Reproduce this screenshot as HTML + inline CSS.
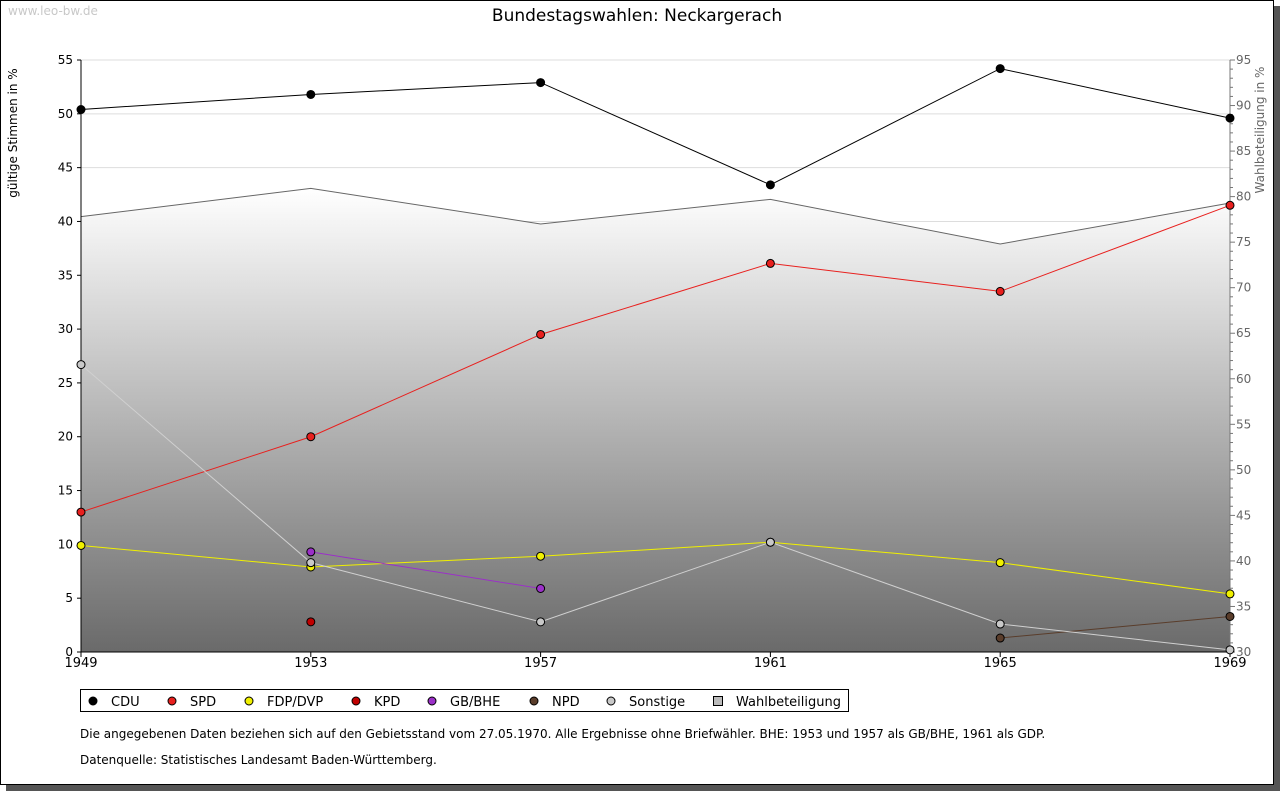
<!DOCTYPE html>
<html><head><meta charset="utf-8"><style>
body{margin:0;background:#fff;font-family:"DejaVu Sans","Liberation Sans",sans-serif;}
svg text{font-family:"DejaVu Sans","Liberation Sans",sans-serif;}
</style></head><body>
<svg id="c" width="1280" height="791" xmlns="http://www.w3.org/2000/svg">
<defs><linearGradient id="g" x1="0" y1="0" x2="0" y2="1"><stop offset="0" stop-color="#ffffff"/><stop offset="1" stop-color="#6a6a6a"/></linearGradient></defs>
<rect x="6" y="6" width="1274" height="785" fill="#555"/>
<rect x="0.5" y="0.5" width="1273" height="784" fill="#fff" stroke="#000"/>
<text x="8" y="15" font-size="12" fill="#c8c8c8">www.leo-bw.de</text>
<text x="637" y="21" font-size="17" text-anchor="middle">Bundestagswahlen: Neckargerach</text>
<text transform="translate(17,133) rotate(-90)" font-size="12" text-anchor="middle">gültige Stimmen in %</text>
<text transform="translate(1264,130) rotate(-90)" font-size="12" fill="#666" text-anchor="middle">Wahlbeteiligung in %</text>
<g id="plot"></g>
<g>
<rect x="80.5" y="689.5" width="768" height="22" fill="#fff" stroke="#000"/>
<g id="leg"></g>
</g>
<text x="80" y="738" font-size="12">Die angegebenen Daten beziehen sich auf den Gebietsstand vom 27.05.1970. Alle Ergebnisse ohne Briefwähler. BHE: 1953 und 1957 als GB/BHE, 1961 als GDP.</text>
<text x="80" y="764" font-size="12">Datenquelle: Statistisches Landesamt Baden-Württemberg.</text>
</svg>
<script>
const years=[1949,1953,1957,1961,1965,1969];
const leftTicks=[0,5,10,15,20,25,30,35,40,45,50,55];
const rightTicks=[30,35,40,45,50,55,60,65,70,75,80,85,90,95];
const cdu=[50.4,51.8,52.9,43.4,54.2,49.6];
const spd=[13.0,20.0,29.5,36.1,33.5,41.5];
const fdp=[9.9,7.9,8.9,10.2,8.3,5.4];
const kpd=[null,2.8,null,null,null,null];
const bhe=[null,9.3,5.9,null,null,null];
const npd=[null,null,null,null,1.3,3.3];
const sonst=[26.7,8.3,2.8,10.2,2.6,0.2];
const turnout=[77.8,80.9,77.0,79.7,74.8,79.3];
const NS='http://www.w3.org/2000/svg';
const X0=81,X1=1230,Y0=652,Y1=60;
const x=i=>X0+(X1-X0)*i/(years.length-1);
const yl=v=>Y0-(Y0-Y1)*v/55;
const yr=v=>Y0-(Y0-Y1)*(v-30)/65;
const plot=document.getElementById('plot');
function el(t,a,p){const e=document.createElementNS(NS,t);for(const k in a)e.setAttribute(k,a[k]);(p||plot).appendChild(e);return e;}
// grid (under area)
leftTicks.forEach(t=>{if(t>0){const g=el('line',{x1:X0,x2:X1,y1:yl(t),y2:yl(t),stroke:'#ddd'});}});
// turnout area
let d='M'+x(0)+','+Y0;turnout.forEach((v,i)=>d+=' L'+x(i)+','+yr(v));d+=' L'+x(5)+','+Y0+' Z';
const area=el('path',{d:d,fill:'url(#g)'});


leftTicks.forEach(t=>{
const tx=el('text',{x:X0-8,y:yl(t)+4,'font-size':12,'text-anchor':'end'});tx.textContent=t;

el('line',{x1:X0-4,x2:X0,y1:yl(t),y2:yl(t),stroke:'#000'});});
let tl='M'+x(0)+','+yr(turnout[0]);turnout.forEach((v,i)=>tl+=' L'+x(i)+','+yr(v));
const tline=el('path',{d:tl,fill:'none',stroke:'#666'});

for(let v=30;v<=95;v++){el('line',{x1:X1,x2:X1+(v%5?3:5),y1:yr(v),y2:yr(v),stroke:'#777'});}
rightTicks.forEach(t=>{const tx=el('text',{x:X1+6,y:yr(t)+4,'font-size':12,fill:'#666'});tx.textContent=t;
});
el('line',{x1:X1,x2:X1,y1:Y1,y2:Y0,stroke:'#777'});
el('line',{x1:X0,x2:X0,y1:Y1,y2:Y0,stroke:'#000'});
el('line',{x1:X0,x2:X1,y1:Y0,y2:Y0,stroke:'#000'});
years.forEach((yv,i)=>{el('line',{x1:x(i),x2:x(i),y1:Y0,y2:Y0+5,stroke:'#000'});
const tx=el('text',{x:x(i),y:Y0+15,'font-size':13,'text-anchor':'middle'});tx.textContent=yv;
});
const series=[['cdu',cdu,'#000','#000'],['spd',spd,'#e8201e','#e8201e'],['fdp',fdp,'#f0f000','#f0f000'],['kpd',kpd,'#c00000','#c00000'],['bhe',bhe,'#9b30c8','#9b30c8'],['npd',npd,'#5a3d2b','#5a3d2b'],['sonstige',sonst,'#d0d0d0','#c8c8c8']];
series.forEach(([n,vals,lc,fc])=>{let p='';vals.forEach((v,i)=>{if(v==null)return;p+=(p?' L':'M')+x(i)+','+yl(v);});
const ln=el('path',{d:p,fill:'none',stroke:lc});
vals.forEach((v,i)=>{if(v==null)return;const c=el('circle',{cx:x(i),cy:yl(v),r:4,fill:fc,stroke:'#000'});
});});
const leg=document.getElementById('leg');
const legItems=[['CDU','#000',93,'c'],['SPD','#e8201e',172,'c'],['FDP/DVP','#f0f000',249,'c'],['KPD','#c00000',356,'c'],['GB/BHE','#9b30c8',432,'c'],['NPD','#5a3d2b',534,'c'],['Sonstige','#c8c8c8',611,'c'],['Wahlbeteiligung','#bbb',718,'s']];
legItems.forEach(([t,c,lx,s])=>{const g=el('g',{},leg);
if(s=='c')el('circle',{cx:lx,cy:701,r:4,fill:c,stroke:'#000'},g);else el('rect',{x:lx-4.5,y:696.5,width:9,height:9,fill:c,stroke:'#000'},g);
const tx=el('text',{x:lx+18,y:706,'font-size':13},g);tx.textContent=t;});
</script>
</body></html>
